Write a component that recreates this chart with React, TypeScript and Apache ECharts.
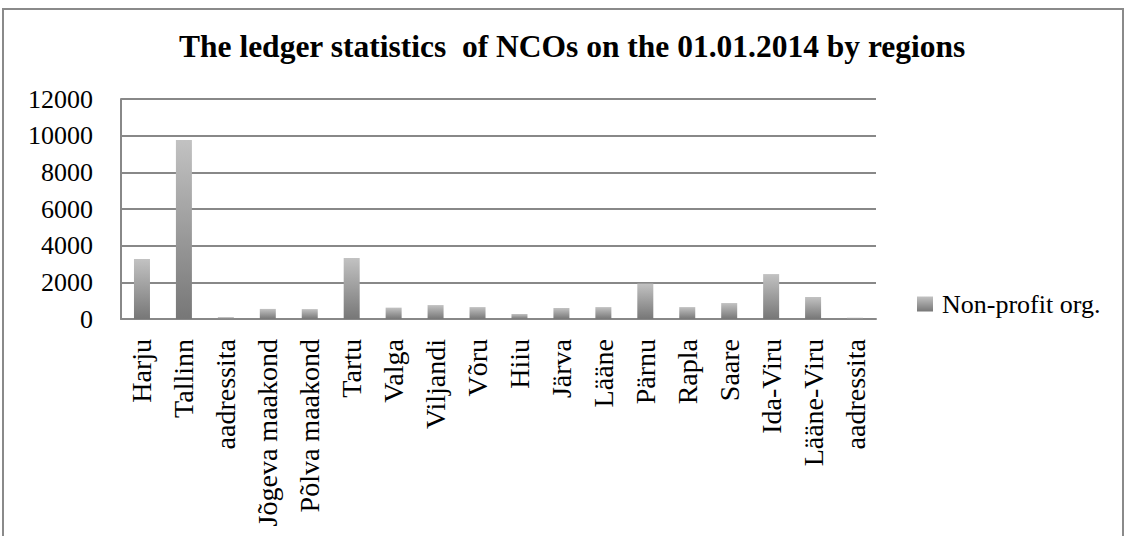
import React, { useEffect, useRef } from "react";
import * as echarts from "echarts";

const categories = [
  "Harju", "Tallinn", "aadressita", "Jõgeva maakond", "Põlva maakond", "Tartu",
  "Valga", "Viljandi", "Võru", "Hiiu", "Järva", "Lääne", "Pärnu", "Rapla",
  "Saare", "Ida-Viru", "Lääne-Viru", "aadressita",
];
const nonProfitValues = [3270, 9760, 100, 550, 540, 3330, 620, 760, 650, 270, 600, 650, 1930, 650, 870, 2450, 1200, 70];
const yTicks = { min: 0, max: 12000, interval: 2000 };
const seriesName = "Non-profit org.";
const titleText = "The ledger statistics  of NCOs on the 01.01.2014 by regions";

export default function App() {
  const ref = useRef<HTMLDivElement>(null);
  useEffect(() => {
    document.body.style.margin = "0";
    const chart = echarts.init(ref.current!, null, { renderer: "svg" });
    const font = "'Liberation Serif', 'Times New Roman', serif";
    const barColor = new echarts.graphic.LinearGradient(0, 0, 0, 1, [
      { offset: 0, color: "#c2c2c2" },
      { offset: 1, color: "#777777" },
    ]);
    chart.setOption({
      animation: false,
      backgroundColor: "#ffffff",
      title: {
        text: titleText,
        left: 179,
        top: 30,
        padding: 0,
        textStyle: { fontFamily: font, fontWeight: "bold", fontSize: 31.5, color: "#000" },
      },
      graphic: [
        {
          type: "rect",
          shape: { x: 3, y: 9, width: 1120, height: 540 },
          style: { fill: "none", stroke: "#8a8a8a", lineWidth: 2 },
          silent: true,
        },
      ],
      legend: {
        left: 917,
        top: 291,
        padding: 0,
        itemWidth: 16,
        itemHeight: 15,
        icon: "rect",
        textStyle: { fontFamily: font, fontSize: 26, color: "#000", padding: [0, 0, 0, 4] },
        data: [seriesName],
      },
      grid: { left: 121, top: 99, width: 755, height: 220, containLabel: false },
      xAxis: {
        type: "category",
        data: categories,
        axisLine: { show: true, lineStyle: { color: "#888", width: 2 } },
        axisTick: { show: false },
        axisLabel: {
          rotate: 90,
          interval: 0,
          margin: 20,
          fontFamily: font,
          fontSize: 28,
          color: "#000",
        },
      },
      yAxis: {
        type: "value",
        min: yTicks.min,
        max: yTicks.max,
        interval: yTicks.interval,
        axisLine: { show: true, lineStyle: { color: "#888", width: 2 } },
        axisTick: { show: false },
        splitLine: { show: true, lineStyle: { color: "#888", width: 2 } },
        axisLabel: {
          margin: 28,
          fontFamily: font,
          fontSize: 26,
          color: "#000",
          formatter: (v: number) => String(v),
        },
      },
      series: [
        {
          name: seriesName,
          type: "bar",
          data: nonProfitValues,
          barWidth: 16,
          itemStyle: { color: barColor },
        },
      ],
    });
    return () => chart.dispose();
  }, []);
  return <div ref={ref} style={{ width: 1127, height: 536 }} />;
}
